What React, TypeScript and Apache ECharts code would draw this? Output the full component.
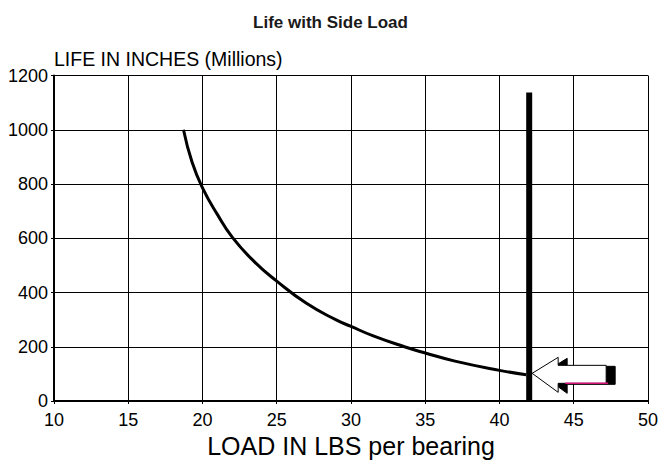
import React, { useEffect, useRef } from "react";
import * as echarts from "echarts";

const loadLbs = [18.72, 19.3, 20, 21, 22, 23.5, 25, 27, 29, 30, 31.5, 33.6, 35, 37, 40, 41.8];
const lifeMillions = [1000, 880, 786, 688, 604, 513, 442, 360, 299, 275, 240, 200, 177, 147, 113, 97];
const limitLoad = [42, 42];
const limitLife = [0, 1137];
const arrowTip = [42.2, 102];
const xTicks = { min: 10, max: 50, step: 5 };
const yTicks = { min: 0, max: 1200, step: 200 };

const FONT = "'Liberation Sans', Arial, Helvetica, sans-serif";

export default function App() {
  const ref = useRef<HTMLDivElement>(null);
  useEffect(() => {
    if (!ref.current) return;
    const chart = echarts.init(ref.current, null, { renderer: "svg" });
    const option: any = {
      animation: false,
      backgroundColor: "#ffffff",
      textStyle: { fontFamily: FONT },
      title: {
        text: "Life with Side Load",
        left: "center",
        top: 9,
        textStyle: { fontFamily: FONT, fontSize: 17, fontWeight: "bold", color: "#1a1a1a" },
      },
      grid: { left: 54, right: 13, top: 75.5, bottom: 64, containLabel: false },
      xAxis: {
        type: "value",
        min: xTicks.min,
        max: xTicks.max,
        interval: xTicks.step,
        name: "LOAD IN LBS per bearing",
        nameLocation: "middle",
        nameGap: 32,
        nameTextStyle: { fontFamily: FONT, fontSize: 25, color: "#000" },
        axisLine: { show: true, onZero: false, lineStyle: { color: "#000", width: 2 } },
        axisTick: { show: true, length: 3, lineStyle: { color: "#000", width: 1 } },
        axisLabel: { fontFamily: FONT, fontSize: 18, color: "#000", margin: 10, formatter: (v: number) => String(v) },
        splitLine: { show: true, lineStyle: { color: "#000", width: 1 } },
      },
      yAxis: {
        type: "value",
        min: yTicks.min,
        max: yTicks.max,
        interval: yTicks.step,
        name: "LIFE IN INCHES (Millions)",
        nameLocation: "end",
        nameGap: 7,
        nameTextStyle: { fontFamily: FONT, fontSize: 19.5, color: "#000", align: "left", verticalAlign: "bottom" },
        axisLine: { show: true, onZero: false, lineStyle: { color: "#000", width: 2 } },
        axisTick: { show: true, length: 3, lineStyle: { color: "#000", width: 1 } },
        axisLabel: { fontFamily: FONT, fontSize: 18, color: "#000", margin: 6, formatter: (v: number) => String(v) },
        splitLine: { show: true, lineStyle: { color: "#000", width: 1 } },
      },
      series: [
        {
          type: "line",
          data: loadLbs.map((x, i) => [x, lifeMillions[i]]),
          smooth: 0.5,
          showSymbol: false,
          symbol: "none",
          lineStyle: { color: "#000", width: 3 },
          z: 5,
        },
        {
          type: "line",
          data: limitLoad.map((x, i) => [x, limitLife[i]]),
          showSymbol: false,
          symbol: "none",
          lineStyle: { color: "#000", width: 6, cap: "butt" },
          z: 6,
        },
        {
          type: "custom",
          data: [arrowTip],
          clip: false,
          z: 10,
          renderItem: (params: any, api: any) => {
            const p = api.coord([api.value(0), api.value(1)]);
            const x = p[0];
            const y = p[1];
            const shape = [
              [0, 0], [26, -16], [26, -8], [74, -8], [74, 10], [26, 10], [26, 19],
            ];
            const shadow = shape.map(([dx, dy]) => [x + dx + 9, y + dy + 1]);
            const front = shape.map(([dx, dy]) => [x + dx, y + dy]);
            return {
              type: "group",
              children: [
                { type: "polygon", shape: { points: shadow }, style: { fill: "#000", stroke: "#000", lineWidth: 1 } },
                { type: "polygon", shape: { points: front }, style: { fill: "#fff", stroke: "#000", lineWidth: 1 } },
                { type: "line", shape: { x1: x + 33, y1: y + 10, x2: x + 76, y2: y + 10 }, style: { stroke: "#d4147a", lineWidth: 1.5 } },
              ],
            };
          },
        },
      ],
    };
    chart.setOption(option);
    return () => chart.dispose();
  }, []);
  return <div ref={ref} style={{ position: "fixed", left: 0, top: 0, width: 661, height: 465 }} />;
}
